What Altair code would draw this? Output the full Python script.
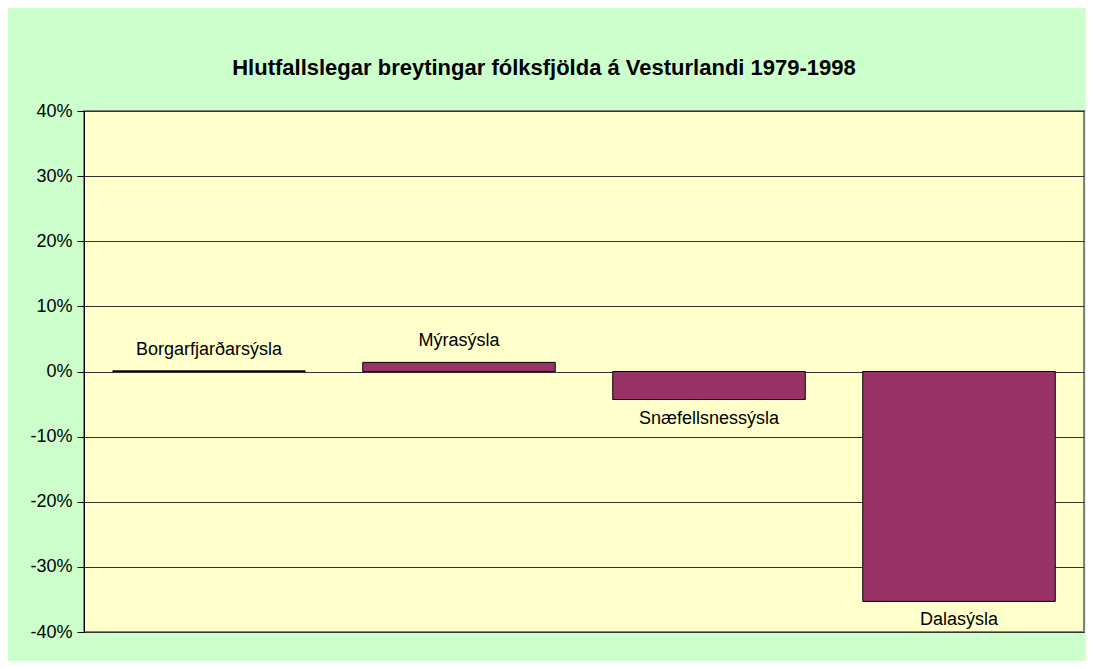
import altair as alt
import pandas as pd

regions = ["Borgarfjarðarsýsla", "Mýrasýsla", "Snæfellsnessýsla", "Dalasýsla"]
changes = [0.001, 0.014, -0.043, -0.353]
y_ticks = [-0.4, -0.3, -0.2, -0.1, 0.0, 0.1, 0.2, 0.3, 0.4]
title_text = "Hlutfallslegar breytingar fólksfjölda á Vesturlandi 1979-1998"

df = pd.DataFrame({"region": regions, "change": changes})

FONT = "Liberation Sans"

x_enc = alt.X("region:N", sort=regions, axis=None,
              scale=alt.Scale(paddingInner=0.23, paddingOuter=0.115))
y_enc = alt.Y("change:Q",
              scale=alt.Scale(domain=[-0.4, 0.4], nice=False, zero=False),
              axis=alt.Axis(values=y_ticks, title=None,
                            labelExpr="replace(format(datum.value, '.0%'), '\u2212', '-')",
                            labelFont=FONT, labelFontSize=18, labelColor="black",
                            labelPadding=5, tickSize=7, tickColor="black",
                            domainColor="black", domainWidth=1,
                            grid=True, gridColor="#333333", gridWidth=1, gridOpacity=1))

bars = alt.Chart(df).mark_bar(color="#993366", stroke="black", strokeWidth=1).encode(
    x=x_enc, y=y_enc
)

pos_labels = alt.Chart(df).transform_filter("datum.change >= 0").mark_text(
    font=FONT, fontSize=18, color="black", baseline="middle", dy=-21
).encode(x=alt.X("region:N", sort=regions, axis=None), y=alt.Y("change:Q"), text="region:N")

neg_labels = alt.Chart(df).transform_filter("datum.change < 0").mark_text(
    font=FONT, fontSize=18, color="black", baseline="middle", dy=19
).encode(x=alt.X("region:N", sort=regions, axis=None), y=alt.Y("change:Q"), text="region:N")

chart = alt.layer(bars, pos_labels, neg_labels).properties(
    width=1000,
    height=521,
    background="#CCFFCC",
    padding={"left": 76, "top": 103, "right": 2, "bottom": 29},
    autosize=alt.AutoSizeParams(type="none"),
    title=alt.TitleParams(title_text, font=FONT, fontSize=22, fontWeight="bold",
                          color="black", anchor="middle", dx=-40, offset=22),
).configure_view(
    fill="#FFFFCC", stroke="#808080", strokeWidth=2
)

chart.save("out.html", embed_options={"renderer": "svg", "actions": False})
